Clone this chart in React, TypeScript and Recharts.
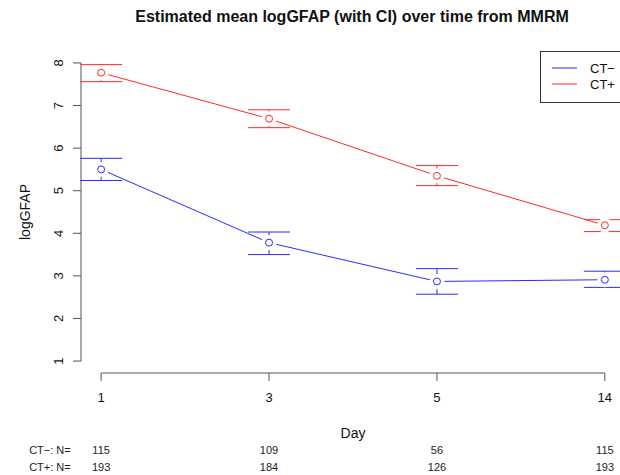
import { ComposedChart, Line, Scatter, XAxis, YAxis, ErrorBar, Legend, ReferenceLine } from 'recharts';

// study days shown on the x axis (plotted at equal spacing)
const days = ['1', '3', '5', '14'];
const dayPos = [1, 2, 3, 4];

// CT- group: estimated mean and CI
const negMean = [5.5, 3.78, 2.87, 2.91];
const negLow = [5.24, 3.5, 2.57, 2.73];
const negHigh = [5.76, 4.03, 3.17, 3.11];

// CT+ group: estimated mean and CI
const posMean = [7.77, 6.69, 5.35, 4.19];
const posLow = [7.56, 6.48, 5.12, 4.04];
const posHigh = [7.96, 6.9, 5.59, 4.32];

// subjects per visit
const nNeg = [115, 109, 56, 115];
const nPos = [193, 184, 126, 193];

const yTicks = [1, 2, 3, 4, 5, 6, 7, 8];
const seriesNames = ['CT\u2212', 'CT+'];
const seriesColors = ['#2a2aff', '#ff2a2a'];

const data = dayPos.map((x, i) => ({
  x,
  neg: negMean[i],
  negErr: [negMean[i] - negLow[i], negHigh[i] - negMean[i]],
  pos: posMean[i],
  posErr: [posMean[i] - posLow[i], posHigh[i] - posMean[i]],
}));

const FONT = '"Liberation Sans", Arial, Helvetica, sans-serif';
const AXIS = '#555';
const X_DOMAIN: [number, number] = [0.88, 4.12];
const Y_DOMAIN: [number, number] = [0.72, 8.28];

const halo = (props: any) => <circle cx={props.cx} cy={props.cy} r={7.5} fill="#fff" />;

const ring = (color: string) => (props: any) => (
  <circle cx={props.cx} cy={props.cy} r={3.5} fill="#fff" stroke={color} strokeWidth={1} />
);

const XTick = (props: any) => {
  const { x, y, payload, index } = props;
  const i = dayPos.indexOf(payload.value);
  return (
    <g fontFamily={FONT}>
      <text x={x} y={y + 21} textAnchor="middle" fontSize={13} fill="#111">
        {days[i]}
      </text>
      <text x={x} y={y + 73} textAnchor="middle" fontSize={11} fill="#222">
        {nNeg[i]}
      </text>
      <text x={x} y={y + 90} textAnchor="middle" fontSize={11} fill="#222">
        {nPos[i]}
      </text>
      {index === 0 && (
        <g fontSize={11} fill="#222">
          <text x={x - 72} y={y + 73}>{`${seriesNames[0]}: N=`}</text>
          <text x={x - 72} y={y + 90}>{`${seriesNames[1]}: N=`}</text>
        </g>
      )}
    </g>
  );
};

const YTick = (props: any) => {
  const { x, y, payload } = props;
  return (
    <text
      x={x - 10}
      y={y}
      transform={`rotate(-90, ${x - 10}, ${y})`}
      textAnchor="middle"
      fontSize={13}
      fontFamily={FONT}
      fill="#111"
    >
      {payload.value}
    </text>
  );
};

const LegendBox = () => (
  <svg width={86} height={52} style={{ display: 'block' }}>
    <rect x={0.5} y={0.5} width={85} height={51} fill="#fff" stroke="#333" strokeWidth={1} />
    {seriesNames.map((name, i) => (
      <g key={name}>
        <line x1={12} x2={37} y1={17 + i * 16} y2={17 + i * 16} stroke={seriesColors[i]} strokeWidth={1} />
        <text x={50} y={22 + i * 16} fontSize={13} fontFamily={FONT} fill="#111">
          {name}
        </text>
      </g>
    ))}
  </svg>
);

const App = () => {
  return (
    <div
      style={{
        position: 'fixed',
        left: 0,
        top: 0,
        width: 620,
        height: 475,
        overflow: 'hidden',
        background: '#fff',
      }}
    >
      <div
        style={{
          position: 'absolute',
          left: 0,
          width: 704,
          top: 8,
          textAlign: 'center',
          fontFamily: FONT,
          fontWeight: 'bold',
          fontSize: 16,
          lineHeight: '18px',
          color: '#111',
        }}
      >
        Estimated mean logGFAP (with CI) over time from MMRM
      </div>
      <ComposedChart width={660} height={475} data={data} margin={{ top: 51, right: 35, bottom: 0, left: 0 }}>
        <XAxis
          type="number"
          dataKey="x"
          domain={X_DOMAIN}
          ticks={dayPos}
          axisLine={false}
          tickLine={{ stroke: AXIS }}
          tickSize={8}
          tickMargin={0}
          height={102}
          tick={<XTick />}
          label={({ viewBox }: any) => (
            <text
              x={viewBox.x + viewBox.width / 2}
              y={viewBox.y + 65}
              textAnchor="middle"
              fontSize={14}
              fontFamily={FONT}
              fill="#111"
            >
              Day
            </text>
          )}
        />
        <YAxis
          type="number"
          domain={Y_DOMAIN}
          ticks={yTicks}
          axisLine={false}
          tickLine={{ stroke: AXIS }}
          tickSize={8}
          tickMargin={0}
          width={81}
          tick={<YTick />}
          label={({ viewBox }: any) => (
            <text
              x={30}
              y={viewBox.y + viewBox.height / 2}
              transform={`rotate(-90, 30, ${viewBox.y + viewBox.height / 2})`}
              textAnchor="middle"
              fontSize={14}
              fontFamily={FONT}
              fill="#111"
            >
              logGFAP
            </text>
          )}
        />
        <ReferenceLine
          segment={[{ x: dayPos[0], y: Y_DOMAIN[0] }, { x: dayPos[dayPos.length - 1], y: Y_DOMAIN[0] }]}
          stroke={AXIS}
          ifOverflow="visible"
        />
        <ReferenceLine
          segment={[{ x: X_DOMAIN[0], y: yTicks[0] }, { x: X_DOMAIN[0], y: yTicks[yTicks.length - 1] }]}
          stroke={AXIS}
          ifOverflow="visible"
        />
        <Legend
          layout="vertical"
          align="center"
          verticalAlign="middle"
          content={() => <LegendBox />}
          wrapperStyle={{ position: 'absolute', left: 540, top: 51, width: 86, height: 52 }}
        />

        {/* connecting lines */}
        <Line dataKey="neg" name={seriesNames[0]} stroke={seriesColors[0]} strokeWidth={1} dot={false} activeDot={false} isAnimationActive={false} legendType="line" />
        <Line dataKey="pos" name={seriesNames[1]} stroke={seriesColors[1]} strokeWidth={1} dot={false} activeDot={false} isAnimationActive={false} legendType="line" />

        {/* white halo at each point so the line stops short of the marker */}
        <Scatter dataKey="neg" shape={halo} isAnimationActive={false} legendType="none" />
        <Scatter dataKey="pos" shape={halo} isAnimationActive={false} legendType="none" />

        {/* confidence intervals and point markers */}
        <Scatter dataKey="neg" shape={ring(seriesColors[0])} isAnimationActive={false} legendType="none">
          <ErrorBar dataKey="negErr" direction="y" width={21} stroke={seriesColors[0]} strokeWidth={1} />
        </Scatter>
        <Scatter dataKey="pos" shape={ring(seriesColors[1])} isAnimationActive={false} legendType="none">
          <ErrorBar dataKey="posErr" direction="y" width={21} stroke={seriesColors[1]} strokeWidth={1} />
        </Scatter>
      </ComposedChart>
    </div>
  );
};

export default App;
